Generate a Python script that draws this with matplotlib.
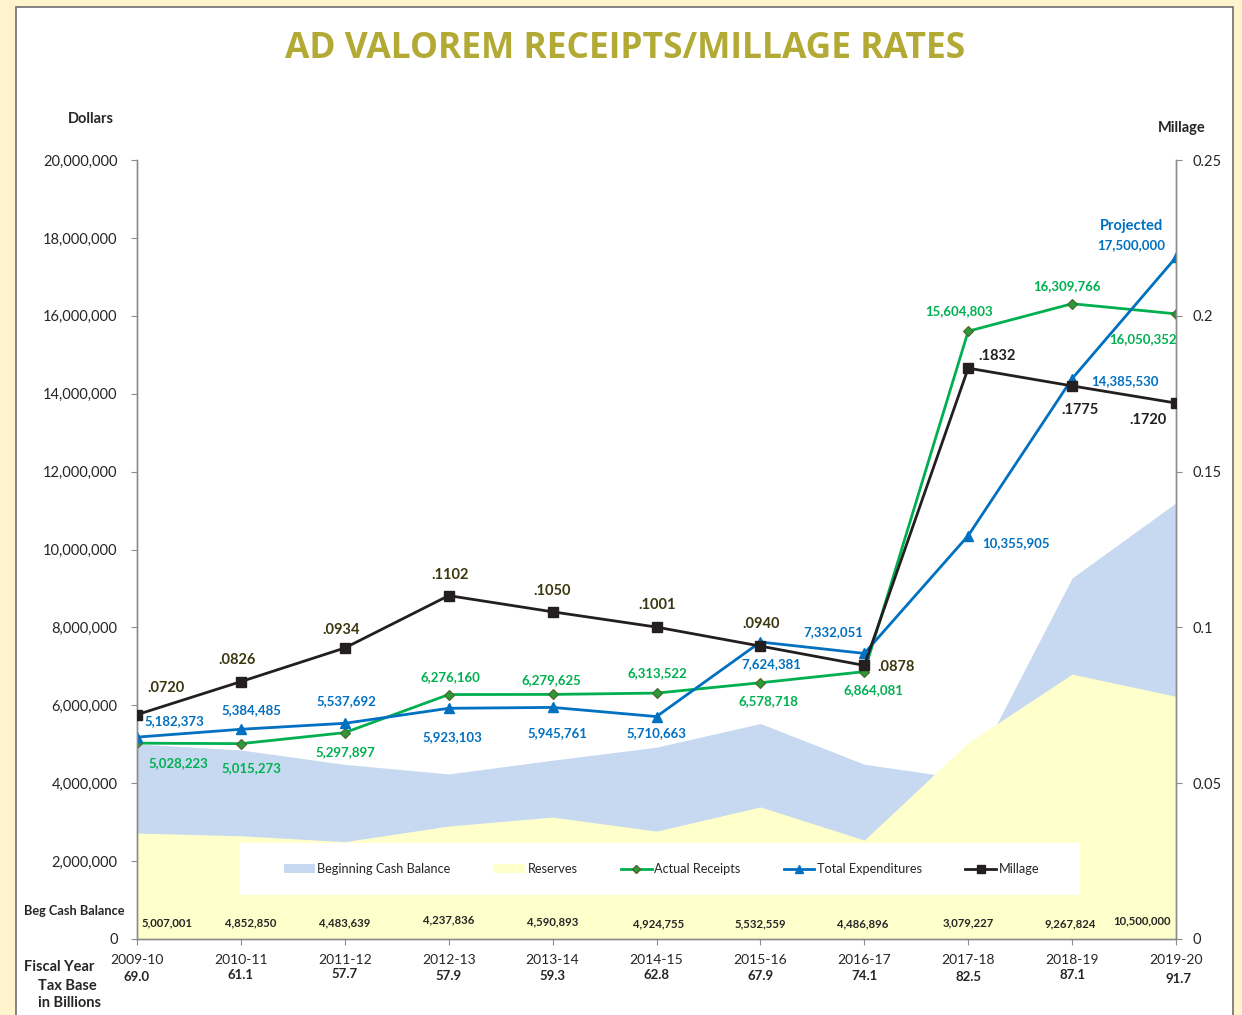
import matplotlib
matplotlib.use("Agg")
import matplotlib.pyplot as plt
from matplotlib.patches import Rectangle
from matplotlib.lines import Line2D
from matplotlib.patches import Patch
import numpy as np

# ---------------- data ----------------
fiscal_years = ["2009-10", "2010-11", "2011-12", "2012-13", "2013-14", "2014-15",
                "2015-16", "2016-17", "2017-18", "2018-19", "2019-20"]
tax_base = ["69.0", "61.1", "57.7", "57.9", "59.3", "62.8", "67.9", "74.1", "82.5", "87.1", "91.7"]
beg_cash_labels = ["5,007,001", "4,852,850", "4,483,639", "4,237,836", "4,590,893", "4,924,755",
                   "5,532,559", "4,486,896", "3,079,227", "9,267,824", "10,500,000"]
# areas as drawn in the picture
beg_cash_area = [5007001, 4852850, 4483639, 4237836, 4590893, 4924755,
                 5532559, 4486896, 4100000, 9267824, 11200000]
reserves = [2720000, 2650000, 2500000, 2900000, 3130000, 2770000,
            3390000, 2540000, 5040000, 6800000, 6230000]
actual_receipts = [5028223, 5015273, 5297897, 6276160, 6279625, 6313522,
                   6578718, 6864081, 15604803, 16309766, 16050352]
total_expenditures = [5182373, 5384485, 5537692, 5923103, 5945761, 5710663,
                      7624381, 7332051, 10355905, 14385530, 17500000]
millage = [0.0720, 0.0826, 0.0934, 0.1102, 0.1050, 0.1001, 0.0940, 0.0878, 0.1832, 0.1775, 0.1720]
millage_labels = [".0720", ".0826", ".0934", ".1102", ".1050", ".1001", ".0940", ".0878",
                  ".1832", ".1775", ".1720"]

# ---------------- style ----------------
W, H = 1242, 1015
FONT = "Lato"
TXT = "#262626"
GREEN = "#00B050"
BLUE = "#0070C0"
BLACK = "#231F20"
OLIVE_LBL = "#3B3710"
AREA_BLUE = "#C6D9F0"
AREA_YEL = "#FFFFCC"
GRAY = "#8C8C8C"

plt.rcParams["font.family"] = [FONT, "DejaVu Sans"]

fig = plt.figure(figsize=(W / 100, H / 100), dpi=100)
fig.patch.set_facecolor("#FFF4CD")
fig.add_artist(Rectangle((16 / W, -0.01), (1233 - 16) / W, 1 - 7 / H + 0.01,
                         transform=fig.transFigure, facecolor="white",
                         edgecolor="#6E6E6E", linewidth=1.2, zorder=0))

def fpx(x, y):
    return x / W, 1 - y / H

ax_l, ax_r, ax_b, ax_t = 137, 1176, 939, 160
ax = fig.add_axes([ax_l / W, (H - ax_b) / H, (ax_r - ax_l) / W, (ax_b - ax_t) / H])
ax.set_facecolor("none")
ax2 = ax.twinx()

x = np.arange(len(fiscal_years))

# areas
ax.fill_between(x, 0, beg_cash_area, color=AREA_BLUE, linewidth=0, zorder=1)
ax.fill_between(x, 0, reserves, color=AREA_YEL, linewidth=0, zorder=2)

# lines
ax.plot(x, actual_receipts, color=GREEN, lw=2.0, marker="D", ms=5.5,
        mfc="#2A9A3A", mec="#4F6228", mew=0.8, zorder=5)
ax.plot(x, total_expenditures, color=BLUE, lw=2.0, marker="^", ms=7.5,
        mfc=BLUE, mec=BLUE, zorder=6)
ax2.plot(x, millage, color=BLACK, lw=2.0, marker="s", ms=7,
         mfc=BLACK, mec=BLACK, zorder=7)

ax.set_xlim(0, 10)
ax.set_ylim(0, 20000000)
ax2.set_ylim(0, 0.25)

# axes styling
for a in (ax, ax2):
    a.spines["top"].set_visible(False)
    for s in ("left", "right", "bottom"):
        a.spines[s].set_color(GRAY)
        a.spines[s].set_linewidth(1.0)
ax.set_yticks(np.arange(0, 20000001, 2000000))
ax.set_yticklabels([f"{int(v):,}" for v in np.arange(0, 20000001, 2000000)])
ax2.set_yticks([0, 0.05, 0.1, 0.15, 0.2, 0.25])
ax2.set_yticklabels(["0", "0.05", "0.1", "0.15", "0.2", "0.25"])
ax.set_xticks(x)
ax.set_xticklabels(fiscal_years)
ax.tick_params(axis="y", direction="out", length=4, color=GRAY, pad=10,
               labelsize=10.5, labelcolor=TXT)
ax2.tick_params(axis="y", direction="out", length=4, color=GRAY, pad=8,
                labelsize=10.5, labelcolor=TXT)
ax.tick_params(axis="x", direction="out", length=4.5, color=GRAY, pad=6.5,
               labelsize=10, labelcolor=TXT)

# data labels (offsets given in image pixels: +x right, +y down)
def put(axis, text, xy, off, **kw):
    axis.annotate(text, xy, xytext=(off[0], -off[1]), textcoords="offset pixels",
                  ha="center", va="center", zorder=10, **kw)

mill_off = [(29, -27), (-4, -22), (-4, -18), (1, -21), (0, -21), (1, -22),
            (1, -22), (32, 2), (29, -12), (8, 24), (-28, 17)]
mill_col = [OLIVE_LBL] * 8 + [BLACK] * 3
for i, (v, t) in enumerate(zip(millage, millage_labels)):
    put(ax2, t, (x[i], v), mill_off[i], fontsize=10.5, fontweight="bold",
        color=mill_col[i])

rec_off = [(41, 20), (11, 24), (1, 19), (2, -17), (-1, -14), (1, -20),
           (8, 18), (9, 18), (-9, -20), (-5, -18), (-33, 25)]
for i, v in enumerate(actual_receipts):
    put(ax, f"{v:,}", (x[i], v), rec_off[i], fontsize=9.5, fontweight="bold",
        color=GREEN)

exp_off = [(37, -16), (11, -19), (2, -22), (4, 29), (5, 26), (0, 17),
           (11, 22), (-31, -21), (48, 7), (53, 2), (-45, -12)]
for i, v in enumerate(total_expenditures):
    put(ax, f"{v:,}", (x[i], v), exp_off[i], fontsize=9.5, fontweight="bold",
        color=BLUE)
put(ax, "Projected", (x[-1], total_expenditures[-1]), (-45, -31), fontsize=10.5,
    fontweight="bold", color=BLUE)

# beginning cash balance values inside plot
cash_dx = [30, 10, 0, 0, 0, 2, 0, -2, 0, -2, -34]
cash_y = [923, 923, 923, 920, 922, 924, 924, 924, 923, 924, 921]
xt = ax.get_xaxis_transform()
for i, t in enumerate(beg_cash_labels):
    ax.annotate(t, (x[i], 0), xycoords=xt, xytext=(cash_dx[i], ax_b - cash_y[i]),
                textcoords="offset pixels", ha="center", va="center",
                fontsize=8.2, fontweight="bold", color=TXT, zorder=4)

# tax base under tick labels
tax_dy = [977, 975, 974, 976, 976, 975, 976, 976, 977, 975, 979]
tax_dx = [0, 0, 0, 0, 0, 0, 0, 0, 0, 0, 3]
for i, t in enumerate(tax_base):
    ax.annotate(t, (x[i], 0), xycoords=xt, xytext=(tax_dx[i], ax_b - tax_dy[i]),
                textcoords="offset pixels", ha="center", va="center",
                fontsize=9.5, fontweight="bold", color=TXT, annotation_clip=False)

# legend white box + legend
ax2.add_patch(Rectangle(((240 - ax_l) / (ax_r - ax_l), (ax_b - 895) / (ax_b - ax_t)),
                        (1080 - 240) / (ax_r - ax_l), (895 - 843) / (ax_b - ax_t),
                        transform=ax2.transAxes, facecolor="white", edgecolor="none",
                        zorder=3))
handles = [
    Patch(facecolor=AREA_BLUE, edgecolor="none"),
    Patch(facecolor=AREA_YEL, edgecolor="none"),
    Line2D([], [], color=GREEN, lw=2.0, marker="D", ms=4, mfc="#2A9A3A", mec="#4F6228"),
    Line2D([], [], color=BLUE, lw=2.0, marker="^", ms=6, mfc=BLUE, mec=BLUE),
    Line2D([], [], color=BLACK, lw=2.0, marker="s", ms=6, mfc=BLACK, mec=BLACK),
]
labels = ["Beginning Cash Balance", "Reserves", "Actual Receipts", "Total Expenditures", "Millage"]
leg = ax2.legend(handles, labels, loc="center", bbox_to_anchor=(0.505, 0.0899),
                 ncol=5, frameon=False, fontsize=9.2, handlelength=2.4,
                 handleheight=0.6, handletextpad=0.2, columnspacing=3.4)
for t in leg.get_texts():
    t.set_color(TXT)
leg.set_zorder(11)

# titles / axis captions
fig.text(*fpx(625, 49), "AD VALOREM RECEIPTS/MILLAGE RATES", ha="center", va="center",
         fontsize=25.5, fontweight="bold", color="#B3AA35", family=["Open Sans", "DejaVu Sans"])
fig.text(*fpx(91, 119), "Dollars", ha="center", va="center", fontsize=10.5,
         fontweight="bold", color=TXT)
fig.text(*fpx(1182, 128), "Millage", ha="center", va="center", fontsize=10.5,
         fontweight="bold", color=TXT)
fig.text(*fpx(74, 911), "Beg Cash Balance", ha="center", va="center", fontsize=9.2,
         fontweight="bold", color=TXT)
fig.text(*fpx(59, 967), "Fiscal Year", ha="center", va="center", fontsize=10.5,
         fontweight="bold", color=TXT)
fig.text(*fpx(67, 986), "Tax Base", ha="center", va="center", fontsize=10.5,
         fontweight="bold", color=TXT)
fig.text(*fpx(70, 1003), "in Billions", ha="center", va="center", fontsize=10.5,
         fontweight="bold", color=TXT)

fig.savefig("out.png", dpi=100, facecolor=fig.get_facecolor())
